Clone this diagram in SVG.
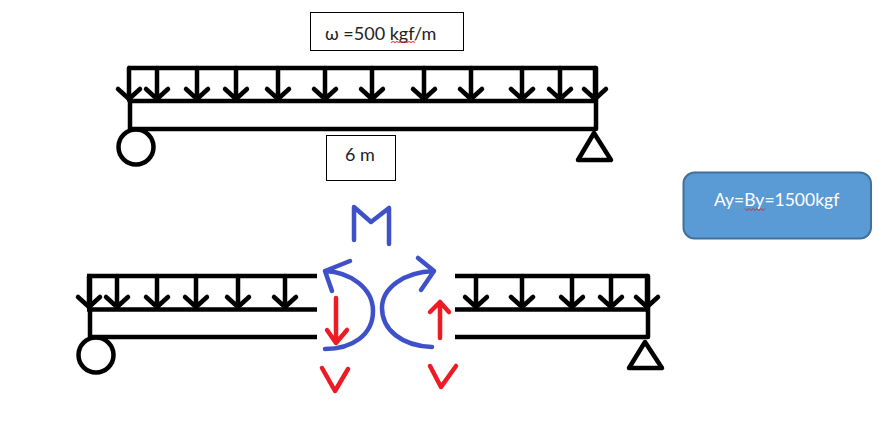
<svg xmlns="http://www.w3.org/2000/svg" width="884" height="429" viewBox="0 0 884 429">
<style>
.k{fill:none;stroke:#000;stroke-width:4.5;stroke-linecap:round;stroke-linejoin:round}
.b{stroke-linecap:butt}
.t{fill:none;stroke:#000;stroke-width:4.5}
.blue{fill:none;stroke:#3f51c9;stroke-width:4.5;stroke-linecap:round;stroke-linejoin:round}
.red{fill:none;stroke:#ed1c24;stroke-width:4.5;stroke-linecap:round;stroke-linejoin:round}
.box{fill:#fff;stroke:#000;stroke-width:1}
.sq{fill:none;stroke:#e0202a;stroke-width:1}
text{font-family:"Lato","Liberation Sans",sans-serif;font-size:18px;fill:#222}
</style>
<defs>
<g id="a"><path class="k" d="M0 0V32M-11 21L0 31L11 21"/></g>
</defs>
<g id="connectors">
<path class="k b" d="M128 68H596V101H130M130 101V129H596V101"/>
<path class="k b" d="M87 276H317M90 276V337M87 309.500H317M90 337H317"/>
<path class="k b" d="M455 276H648V337H455M455 309.500H648"/>
</g>
<g id="load-top">
<use href="#a" x="129" y="68"/><use href="#a" x="157" y="68"/><use href="#a" x="197" y="68"/><use href="#a" x="236" y="68"/><use href="#a" x="278" y="68"/><use href="#a" x="325" y="68"/><use href="#a" x="372" y="68"/><use href="#a" x="424" y="68"/><use href="#a" x="471" y="68"/><use href="#a" x="522" y="68"/><use href="#a" x="560" y="68"/><use href="#a" x="595" y="68"/>
</g>
<g id="load-left">
<use href="#a" x="89" y="276"/><use href="#a" x="117" y="276"/><use href="#a" x="157" y="276"/><use href="#a" x="196" y="276"/><use href="#a" x="238" y="276"/><use href="#a" x="285" y="276"/>
</g>
<g id="load-right">
<use href="#a" x="476" y="276"/><use href="#a" x="522" y="276"/><use href="#a" x="572" y="276"/><use href="#a" x="611" y="276"/><use href="#a" x="647" y="276"/>
</g>
<g id="support-a"><circle class="t" cx="136" cy="147" r="17.500"/></g>
<g id="support-b"><path class="k" d="M594 133L611 160H578Z"/></g>
<g id="support-c"><circle class="t" cx="96" cy="355" r="17.500"/></g>
<g id="support-d"><path class="k" d="M645 342L662 368H629Z"/></g>
<g id="moment">
<path class="blue" d="M354 240V207L371 222L389 208L389 244"/>
<path class="blue" d="M325 349C352 349 373 335 373 311C373 288 350 272 325 271M350 261L325 271L332 291"/>
<path class="blue" d="M432 347C402 346 382 330 382 308C382 288 404 272 434 271M418 258L434 271L421 290"/>
</g>
<g id="shear">
<path class="red" d="M336 298V343M327 330L336 343L347 330"/>
<path class="red" d="M440 338V302M430 312L440 302L449 312"/>
<path class="red" d="M322 368L335 391L348 369"/>
<path class="red" d="M430 366L441 387L456 366"/>
</g>
<g id="label-load">
<rect class="box" x="310.500" y="12.500" width="153" height="38"/>
<text x="325" y="40">ω =500 kgf/m</text>
<path class="sq" d="M391 42.500l2-1 2 1 2-1 2 1 2-1 2 1 2-1 2 1 2-1 2 1 2-1 2 1"/>
</g>
<g id="label-span">
<rect class="box" x="326.500" y="135.500" width="69" height="45"/>
<text x="345" y="161">6 m</text>
</g>
<g id="label-reactions">
<rect x="683.500" y="172.500" width="187.500" height="66" rx="11" fill="#5b9bd5" stroke="#41719c" stroke-width="2"/>
<text x="714" y="206" style="fill:#fff;font-size:17.500px">Ay=By=1500kgf</text>
<path class="sq" d="M745 208.500l2 2 2-2 2 2 2-2 2 2 2-2 2 2 2-2 2 2 2-2"/>
</g>
</svg>
